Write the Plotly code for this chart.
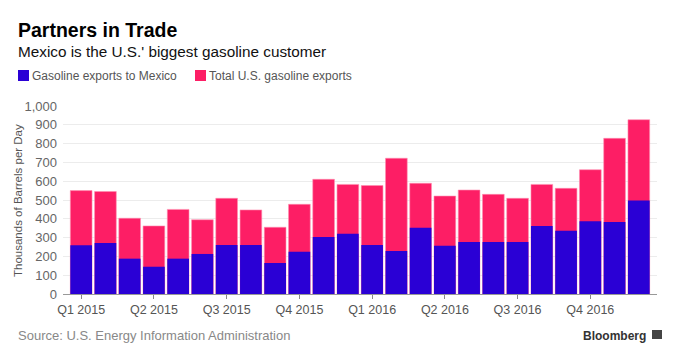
import plotly.graph_objects as go

months = ["2015-01", "2015-02", "2015-03", "2015-04", "2015-05", "2015-06",
          "2015-07", "2015-08", "2015-09", "2015-10", "2015-11", "2015-12",
          "2016-01", "2016-02", "2016-03", "2016-04", "2016-05", "2016-06",
          "2016-07", "2016-08", "2016-09", "2016-10", "2016-11", "2016-12"]
total_exports = [550, 545, 403, 362, 450, 395, 509, 447, 355, 477, 610, 583,
                 577, 722, 589, 521, 553, 530, 509, 583, 562, 661, 828, 927]
mexico_exports = [259, 271, 188, 145, 188, 213, 261, 261, 165, 225, 303, 321,
                  261, 229, 353, 257, 277, 277, 277, 362, 337, 387, 383, 498]
tick_months = ["2015-01", "2015-04", "2015-07", "2015-10",
               "2016-01", "2016-04", "2016-07", "2016-10"]
tick_labels = ["Q1 2015", "Q2 2015", "Q3 2015", "Q4 2015",
               "Q1 2016", "Q2 2016", "Q3 2016", "Q4 2016"]
y_ticks = [0, 100, 200, 300, 400, 500, 600, 700, 800, 900, 1000]

BLUE = "#2a00d5"
PINK = "#fd1e65"
FONT = "Liberation Sans, Arial, sans-serif"

W, H = 680, 360
ML, MR, MT, MB = 63, 23, 106, 66
PH = H - MT - MB
PW = W - ML - MR


def py(ypx):
    return (H - MB - ypx) / PH


def px(xpx):
    return (xpx - ML) / PW


fig = go.Figure()
fig.add_trace(go.Bar(x=months, y=total_exports, name="Total U.S. gasoline exports",
                     marker=dict(color=PINK, line=dict(color="#ff8fb0", width=0.6))))
fig.add_trace(go.Bar(x=months, y=mexico_exports, name="Gasoline exports to Mexico",
                     marker=dict(color=BLUE, line=dict(width=0))))

fig.update_layout(
    width=W, height=H,
    margin=dict(l=ML, r=MR, t=MT, b=MB, autoexpand=False),
    barmode="overlay", bargap=0.105,
    plot_bgcolor="white", paper_bgcolor="white",
    font=dict(family=FONT, color="#666", size=13),
    showlegend=False,
    xaxis=dict(type="category", tickmode="array", tickvals=tick_months,
               ticktext=tick_labels, ticks="outside", ticklen=4,
               tickcolor="#888", showline=True, linecolor="#999", linewidth=1,
               showgrid=False, tickfont=dict(size=12.5, color="#555"),
               range=[-0.75, 23.75], automargin=False),
    yaxis=dict(range=[0, 1000], tickvals=y_ticks, tickformat=",d",
               showgrid=True, gridcolor="#ececec", zeroline=False,
               tickfont=dict(size=13, color="#666"), ticks="",
               ticklabelstandoff=5, automargin=False),
)

annotations = [
    dict(text="<b>Partners in Trade</b>", x=px(16), y=py(17), xanchor="left",
         yanchor="top", font=dict(size=19.5, color="#000", family=FONT)),
    dict(text="Mexico is the U.S.' biggest gasoline customer", x=px(16), y=py(41),
         xanchor="left", yanchor="top", font=dict(size=15.3, color="#111", family=FONT)),
    dict(text="Gasoline exports to Mexico", x=px(30), y=py(76),
         xanchor="left", yanchor="middle", font=dict(size=12, color="#555", family=FONT)),
    dict(text="Total U.S. gasoline exports", x=px(207), y=py(76),
         xanchor="left", yanchor="middle", font=dict(size=12, color="#555", family=FONT)),
    dict(text="Thousands of Barrels per Day", x=px(18), y=py(201), textangle=-90,
         xanchor="center", yanchor="middle", font=dict(size=11.5, color="#555", family=FONT)),
    dict(text="Source: U.S. Energy Information Administration", x=px(16), y=py(326),
         xanchor="left", yanchor="top", font=dict(size=13, color="#888", family=FONT)),
    dict(text="<b>Bloomberg</b>", x=px(648), y=py(327), xanchor="right",
         yanchor="top", font=dict(size=12, color="#333", family=FONT)),
]
for a in annotations:
    a.update(xref="paper", yref="paper", showarrow=False)
fig.update_layout(annotations=annotations)

shapes = [
    dict(type="rect", x0=px(18), x1=px(29), y0=py(81), y1=py(70),
         fillcolor=BLUE, line=dict(width=0)),
    dict(type="rect", x0=px(195), x1=px(206), y0=py(81), y1=py(70),
         fillcolor=PINK, line=dict(width=0)),
    dict(type="rect", x0=px(652), x1=px(662), y0=py(339), y1=py(330),
         fillcolor="#444", line=dict(width=0)),
]
for s in shapes:
    s.update(xref="paper", yref="paper")
fig.update_layout(shapes=shapes)

fig.write_html("out.html", config={"displayModeBar": False},
               post_script="document.body.style.margin='0';")
